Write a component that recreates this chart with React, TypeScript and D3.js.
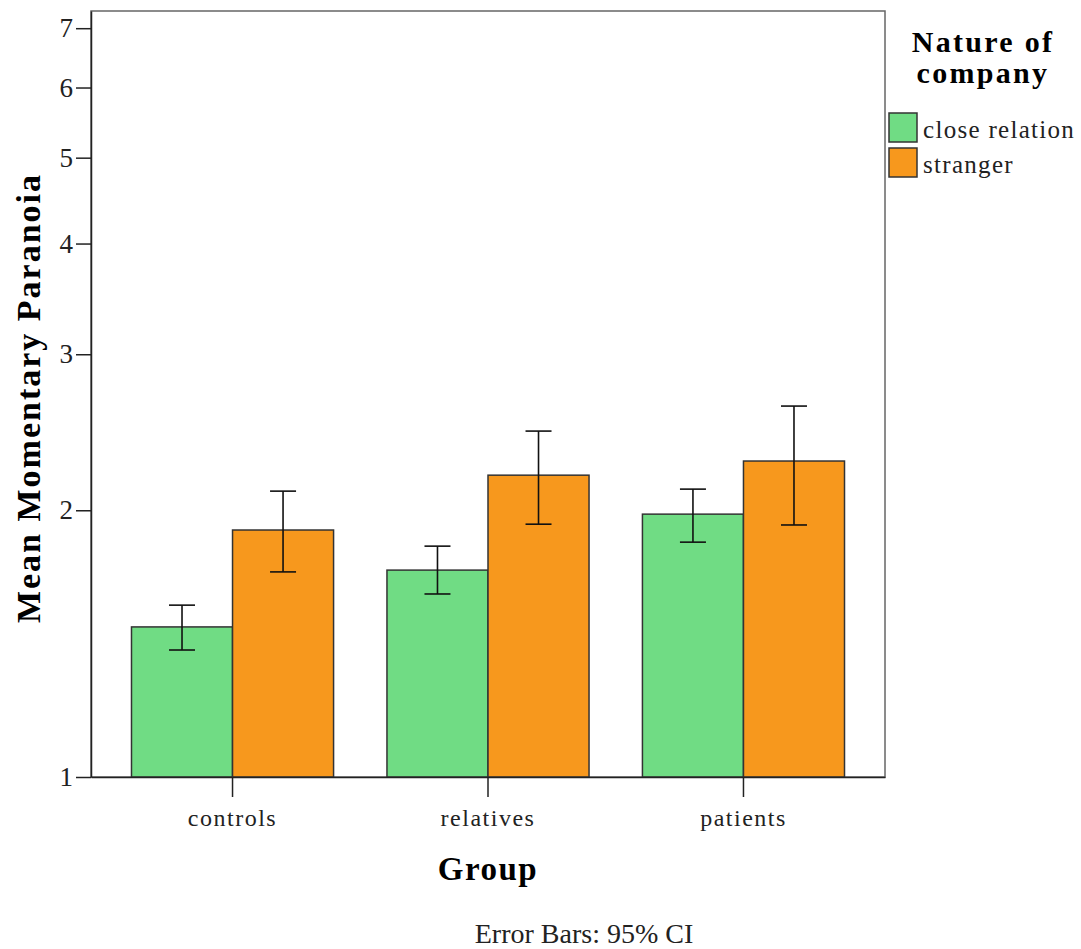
import React, { useEffect, useRef } from 'react'
import * as d3 from 'd3'

// data
const groups = ['controls', 'relatives', 'patients']
const series = ['close relation', 'stranger']
const means = [
  [1.477, 1.900],
  [1.712, 2.191],
  [1.980, 2.273],
]
const ciLow = [
  [1.391, 1.704],
  [1.609, 1.929],
  [1.841, 1.925],
]
const ciHigh = [
  [1.563, 2.102],
  [1.822, 2.457],
  [2.113, 2.622],
]
const yTicks = [1, 2, 3, 4, 5, 6, 7]
const colors = ['#70dc84', '#f7981d']

const W = 1081
const H = 949
const FONT = '"Liberation Serif", "Times New Roman", serif'

export default function App() {
  const ref = useRef<SVGSVGElement>(null)

  useEffect(() => {
    const svg = d3.select(ref.current)
    svg.selectAll('*').remove()

    const left = 91, right = 885, top = 11, bottom = 777

    const x = d3.scaleBand<string>().domain(groups).range([left, right])
      .paddingInner(0.209).paddingOuter(0.1585)
    const x1 = d3.scaleBand<string>().domain(series).range([0, x.bandwidth()])
    const y = d3.scaleLog().domain([1, 7.32]).range([bottom, top])

    // frame
    svg.append('rect')
      .attr('x', left).attr('y', top)
      .attr('width', right - left).attr('height', bottom - top)
      .attr('fill', 'white').attr('stroke', '#666').attr('stroke-width', 1.5)

    // bars
    const g = svg.append('g')
    groups.forEach((grp, i) => {
      series.forEach((s, j) => {
        g.append('rect')
          .attr('x', x(grp)! + x1(s)!)
          .attr('y', y(means[i][j]))
          .attr('width', x1.bandwidth())
          .attr('height', y(1) - y(means[i][j]))
          .attr('fill', colors[j])
          .attr('stroke', '#333').attr('stroke-width', 1.5)
      })
    })

    // error bars
    groups.forEach((grp, i) => {
      series.forEach((s, j) => {
        const cx = x(grp)! + x1(s)! + x1.bandwidth() / 2
        const eb = g.append('g').attr('stroke', '#111').attr('stroke-width', 1.6)
        eb.append('line').attr('x1', cx).attr('x2', cx)
          .attr('y1', y(ciLow[i][j])).attr('y2', y(ciHigh[i][j]))
        ;[ciLow[i][j], ciHigh[i][j]].forEach(v => {
          eb.append('line').attr('x1', cx - 13).attr('x2', cx + 13)
            .attr('y1', y(v)).attr('y2', y(v))
        })
      })
    })

    // y axis
    const yAxis = svg.append('g')
      .attr('transform', `translate(${left},0)`)
      .call(d3.axisLeft(y).tickValues(yTicks).tickFormat(d3.format('d'))
        .tickSizeInner(15).tickSizeOuter(0).tickPadding(3))
    yAxis.select('.domain').attr('stroke', '#222').attr('stroke-width', 1.5)
    yAxis.selectAll('.tick line').attr('stroke', '#222').attr('stroke-width', 1.5)
    yAxis.selectAll('.tick text')
      .attr('font-family', FONT).attr('font-size', 27).attr('fill', '#222')

    // x axis
    const xAxis = svg.append('g')
      .attr('transform', `translate(0,${bottom})`)
      .call(d3.axisBottom(x).tickSizeInner(20).tickSizeOuter(0).tickPadding(12))
    xAxis.select('.domain').attr('stroke', '#222').attr('stroke-width', 1.5)
    xAxis.selectAll('.tick line').attr('stroke', '#222').attr('stroke-width', 1.5)
    xAxis.selectAll('.tick text')
      .attr('font-family', FONT).attr('font-size', 24).attr('fill', '#222')
      .attr('letter-spacing', 1.5).attr('dy', '0.71em')

    // axis titles
    svg.append('text')
      .attr('transform', `translate(40,398) rotate(-90)`)
      .attr('text-anchor', 'middle')
      .attr('font-family', FONT).attr('font-weight', 'bold').attr('font-size', 34)
      .attr('letter-spacing', 2)
      .text('Mean Momentary Paranoia')

    svg.append('text')
      .attr('x', 488).attr('y', 880)
      .attr('text-anchor', 'middle')
      .attr('font-family', FONT).attr('font-weight', 'bold').attr('font-size', 33)
      .attr('letter-spacing', 1.5)
      .text('Group')

    svg.append('text')
      .attr('x', 584).attr('y', 943)
      .attr('text-anchor', 'middle')
      .attr('font-family', FONT).attr('font-size', 28).attr('fill', '#222')
      .text('Error Bars: 95% CI')

    // legend
    const legend = svg.append('g')
    ;['Nature of', 'company'].forEach((t, i) => {
      legend.append('text')
        .attr('x', 983).attr('y', 52 + i * 31)
        .attr('text-anchor', 'middle')
        .attr('font-family', FONT).attr('font-weight', 'bold').attr('font-size', 30)
        .attr('letter-spacing', 2.3)
        .text(t)
    })
    series.forEach((s, i) => {
      legend.append('rect')
        .attr('x', 889).attr('y', 113 + i * 35)
        .attr('width', 28).attr('height', 29)
        .attr('fill', colors[i]).attr('stroke', '#333').attr('stroke-width', 1.5)
      legend.append('text')
        .attr('x', 923).attr('y', 138 + i * 35)
        .attr('font-family', FONT).attr('font-size', 25).attr('fill', '#222')
        .attr('letter-spacing', 1.3)
        .text(s)
    })
  }, [])

  return (
    <svg ref={ref} width={W} height={H}
      style={{ position: 'absolute', left: 0, top: 0, background: 'white' }} />
  )
}
